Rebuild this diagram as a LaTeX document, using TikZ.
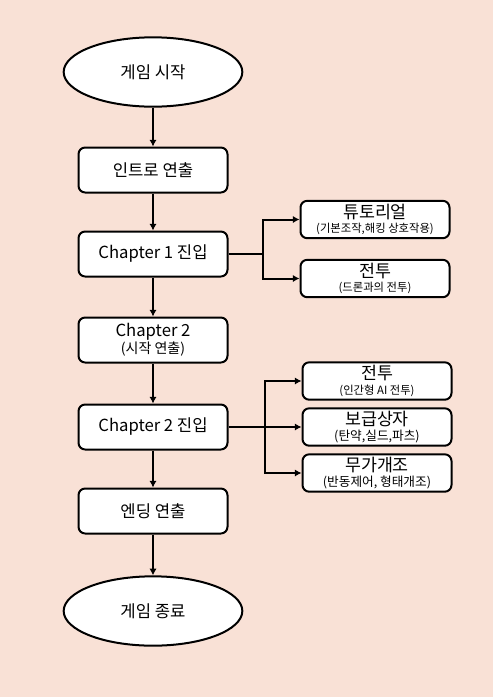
\documentclass[tikz,border=0pt]{standalone}
\usepackage{fontspec}
\setmainfont{Noto Sans CJK KR}
\usepackage{xcolor}
\usetikzlibrary{shapes.geometric,arrows.meta}
\definecolor{bgpeach}{RGB}{249,225,214}

\begin{document}
\begin{tikzpicture}[x=0.75pt,y=-0.75pt,
    flow/.style={draw, line width=1.5pt, fill=white, rounded corners=5pt, inner sep=0pt, align=center,
        minimum width=111.75pt, minimum height=33.75pt, font=\fontsize{12.5}{14}\selectfont},
    side/.style={draw, line width=1.5pt, fill=white, rounded corners=5pt, inner sep=0pt, align=center,
        minimum width=111.75pt, minimum height=28pt, font=\fontsize{13}{13}\selectfont},
    term/.style={draw, line width=1.5pt, fill=white, ellipse, inner sep=0pt,
        minimum width=134pt, minimum height=52pt, font=\fontsize{12.5}{14}\selectfont},
    arr/.style={line width=1.5pt, -{Latex[length=5pt,width=5.5pt]}}]

    % Background
    \fill[bgpeach] (0,0) rectangle (493,697);

    % Main flow
    \node[term] (start) at (153,72) {게임 시작};
    \node[flow] (intro) at (153,170) {인트로 연출};
    \node[flow] (chOne) at (153,254) {Chapter 1 진입};
    \node[flow] (chTwo) at (153,340) {Chapter 2\\[-1pt]{\fontsize{10.5}{11}\selectfont (시작 연출)}};
    \node[flow] (chTwoIn) at (153,427) {Chapter 2 진입};
    \node[flow] (ending) at (153,511) {엔딩 연출};
    \node[term] (finish) at (153,611) {게임 종료};

    \draw[arr] (start) -- (intro);
    \draw[arr] (intro) -- (chOne);
    \draw[arr] (chOne) -- (chTwo);
    \draw[arr] (chTwo) -- (chTwoIn);
    \draw[arr] (chTwoIn) -- (ending);
    \draw[arr] (ending) -- (finish);

    % Chapter 1 branches
    \node[side] (tutorial) at (375,219.5) {튜토리얼\\[-2pt]{\fontsize{8.5}{9}\selectfont (기본조작,해킹 상호작용)}};
    \node[side] (droneFight) at (375,278.5) {전투\\[-2pt]{\fontsize{8.5}{9}\selectfont (드론과의 전투)}};
    \coordinate (splitOne) at (263,254);
    \draw[line width=1.5pt] (chOne.east) -- (splitOne);
    \draw[arr] (splitOne) |- (tutorial.west);
    \draw[arr] (splitOne) |- (droneFight.west);

    % Chapter 2 branches
    \node[side] (aiFight) at (377,381) {전투\\[-2pt]{\fontsize{8.5}{9}\selectfont (인간형 AI 전투)}};
    \node[side] (supply) at (377,427) {보급상자\\[-2pt]{\fontsize{9.5}{10}\selectfont (탄약,실드,파츠)}};
    \node[side] (modding) at (377,473) {무가개조\\[-2pt]{\fontsize{9.5}{10}\selectfont (반동제어, 형태개조)}};
    \coordinate (splitTwo) at (265,427);
    \draw[line width=1.5pt] (chTwoIn.east) -- (splitTwo);
    \foreach \t in {aiFight,supply,modding} {
        \draw[arr] (splitTwo) |- (\t.west);
    }
\end{tikzpicture}
\end{document}
